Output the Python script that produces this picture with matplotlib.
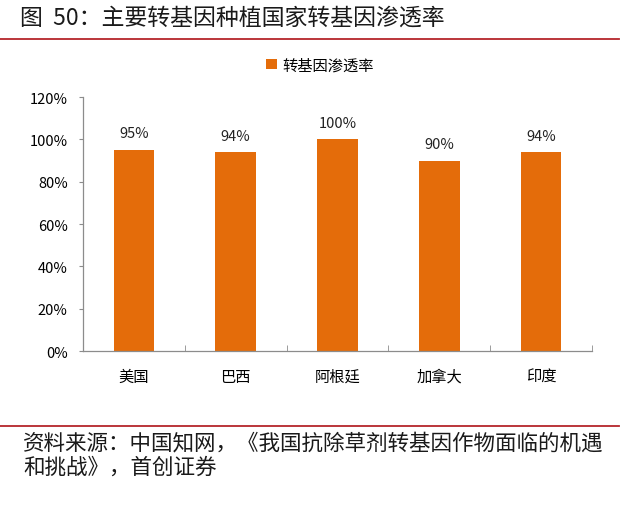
import matplotlib
matplotlib.use('Agg')
import matplotlib.pyplot as plt
from matplotlib.ticker import PercentFormatter
from matplotlib.lines import Line2D

plt.rcParams['font.family'] = ['Noto Sans CJK SC', 'DejaVu Sans']

# data
countries = ['美国', '巴西', '阿根廷', '加拿大', '印度']
rates = [0.95, 0.94, 1.00, 0.90, 0.94]
series_name = '转基因渗透率'
yticks = [0, 0.2, 0.4, 0.6, 0.8, 1.0, 1.2]

title = '图  50：主要转基因种植国家转基因渗透率'
source_1 = '资料来源：中国知网，《我国抗除草剂转基因作物面临的机遇'
source_2 = '和挑战》，首创证券'

bar_color = '#E46C0A'
axis_color = '#8C8C8C'
red = '#B5252B'


def main():
    fig = plt.figure(figsize=(6.4, 5.06), dpi=100)
    ax = fig.add_axes([0.1297, 0.3043, 0.7953, 0.502])

    x = range(len(countries))
    bars = ax.bar(x, rates, width=0.4, color=bar_color, label=series_name)
    for b, v in zip(bars, rates):
        ax.text(b.get_x() + b.get_width() / 2, v + 0.045, f'{v:.0%}',
                ha='center', va='bottom', fontsize=10.5, color='#222222')

    ax.set_xlim(-0.5, len(countries) - 0.5)
    ax.set_ylim(0, 1.2)
    ax.set_yticks(yticks)
    ax.yaxis.set_major_formatter(PercentFormatter(1.0, decimals=0))
    ax.set_xticks(list(x))
    ax.set_xticklabels(countries, fontsize=11)
    ax.tick_params(axis='x', length=0, pad=12)
    ax.set_xticks([i + 0.5 for i in range(len(countries))], minor=True)
    ax.tick_params(axis='x', which='minor', direction='in', length=4,
                   color=axis_color)
    ax.tick_params(axis='y', labelsize=10.5, length=3, color=axis_color,
                   pad=8)

    for s in ['top', 'right']:
        ax.spines[s].set_visible(False)
    for s in ['left', 'bottom']:
        ax.spines[s].set_color(axis_color)
        ax.spines[s].set_linewidth(0.9)

    fig.legend(handles=bars[:1], labels=[series_name], loc='center',
               bbox_to_anchor=(0.5, 0.87), frameon=False, fontsize=11,
               handlelength=0.7, handleheight=0.7, handletextpad=0.4)

    fig.text(0.031, 0.964, title, fontsize=16.5, va='center', ha='left',
             color='#1a1a1a')
    fig.add_artist(Line2D([0, 0.967], [0.921, 0.921], color=red, lw=1.3,
                          transform=fig.transFigure))
    fig.add_artist(Line2D([0, 0.967], [0.156, 0.156], color=red, lw=1.3,
                          transform=fig.transFigure))
    fig.text(0.036, 0.124, source_1, fontsize=15.5, va='center', ha='left',
             color='#1a1a1a')
    fig.text(0.036, 0.076, source_2, fontsize=15.5, va='center', ha='left',
             color='#1a1a1a')

    fig.savefig('out.png', dpi=100, facecolor='white')


if __name__ == '__main__':
    main()
